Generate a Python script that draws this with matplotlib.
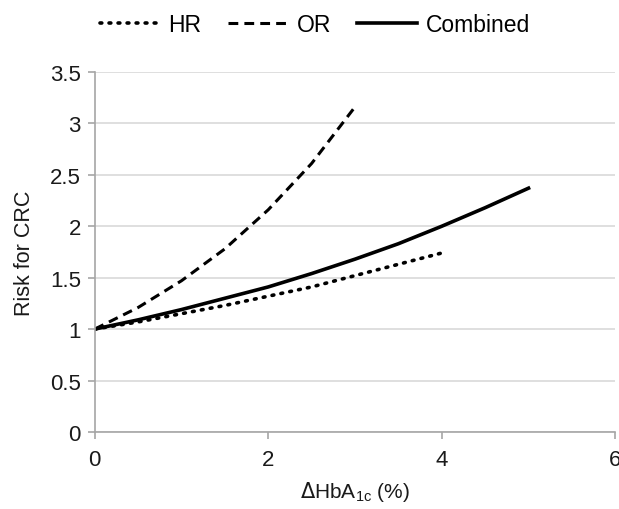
import matplotlib.pyplot as plt
import numpy as np

# values
hr_x = [0, 0.5, 1, 1.5, 2, 2.5, 3, 3.5, 4]
hr_y = [1.0, 1.07, 1.15, 1.23, 1.32, 1.41, 1.52, 1.63, 1.74]

or_x = [0, 0.5, 1, 1.5, 2, 2.5, 3]
or_y = [1.0, 1.21, 1.47, 1.78, 2.16, 2.61, 3.16]

comb_x = [0, 0.5, 1, 1.5, 2, 2.5, 3, 3.5, 4, 4.5, 5]
comb_y = [1.0, 1.09, 1.19, 1.30, 1.41, 1.54, 1.68, 1.83, 2.0, 2.18, 2.37]

x_ticks = [0, 2, 4, 6]
y_ticks = [0, 0.5, 1, 1.5, 2, 2.5, 3, 3.5]

plt.rcParams['font.family'] = ['Liberation Sans', 'DejaVu Sans']

fig = plt.figure(figsize=(6.19, 5.10), dpi=100)
ax = fig.add_axes([0.153, 0.151, 0.841, 0.706])

ax.plot(hr_x, hr_y, color='black', linestyle=(0, (0.5, 2.0)), linewidth=2.6,
        dash_capstyle='round', label='HR')
ax.plot(or_x, or_y, color='black', linestyle=(0, (3.2, 2.0)), linewidth=2.2,
        label='OR')
ax.plot(comb_x, comb_y, color='black', linestyle='-', linewidth=2.6,
        label='Combined')

ax.set_xlim(0, 6)
ax.set_ylim(0, 3.5)
ax.set_xticks(x_ticks)
ax.set_yticks(y_ticks)
ax.set_xticklabels([str(t) for t in x_ticks])
ax.set_yticklabels(['0', '0.5', '1', '1.5', '2', '2.5', '3', '3.5'])

ax.grid(axis='y', color='#d9d9d9', linewidth=1.2)
ax.set_axisbelow(True)
for s in ['top', 'right']:
    ax.spines[s].set_visible(False)
for s in ['left', 'bottom']:
    ax.spines[s].set_color('#a6a6a6')
    ax.spines[s].set_linewidth(1.2)
ax.tick_params(axis='both', colors='#a6a6a6', length=5, width=1.2,
               labelsize=16, labelcolor='#1a1a1a')
ax.tick_params(axis='x', pad=7)
ax.tick_params(axis='y', pad=5)

ax.set_xlabel(r'$\Delta$HbA$_{\mathregular{1c}}$ (%)', fontsize=15,
              color='#1a1a1a', labelpad=7)
ax.set_ylabel('Risk for CRC', fontsize=15.5, color='#1a1a1a', labelpad=11)

fig.legend(loc='center', bbox_to_anchor=(315 / 619, 1 - 26 / 510), ncol=3,
           frameon=False, fontsize=16.5, handlelength=2.6, handletextpad=0.4,
           columnspacing=1.15)

fig.savefig('out.png', dpi=100)
